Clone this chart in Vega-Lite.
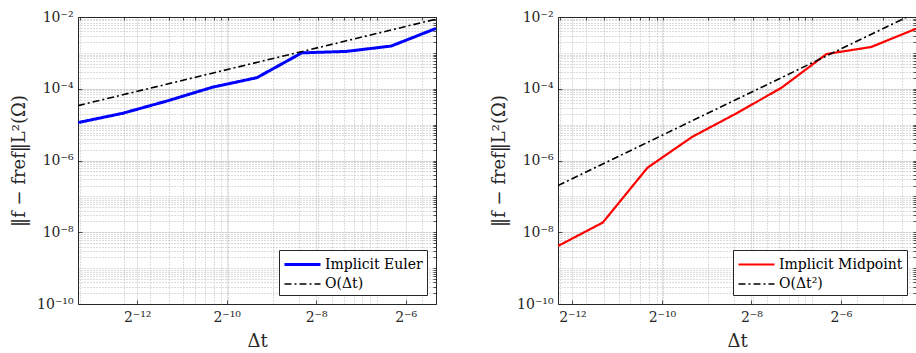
{
  "$schema": "https://vega.github.io/schema/vega-lite/v6.json",
  "padding": {"left": 10, "top": 10, "right": 0, "bottom": 2},
  "background": "white",
  "spacing": 122,
  "bounds": "flush",
  "datasets": {
    "euler": [
      {"dt": 9.765625e-5, "err": 1.14e-5, "series": "Implicit Euler"},
      {"dt": 1.953125e-4, "err": 2.07e-5, "series": "Implicit Euler"},
      {"dt": 3.90625e-4, "err": 4.6e-5, "series": "Implicit Euler"},
      {"dt": 7.8125e-4, "err": 1.1e-4, "series": "Implicit Euler"},
      {"dt": 1.5625e-3, "err": 2.04e-4, "series": "Implicit Euler"},
      {"dt": 3.125e-3, "err": 1.0e-3, "series": "Implicit Euler"},
      {"dt": 6.25e-3, "err": 1.1e-3, "series": "Implicit Euler"},
      {"dt": 1.25e-2, "err": 1.55e-3, "series": "Implicit Euler"},
      {"dt": 2.5e-2, "err": 4.8e-3, "series": "Implicit Euler"},
      {"dt": 9.765625e-5, "err": 3.39e-5, "series": "O(Δt)"},
      {"dt": 2.5e-2, "err": 8.7e-3, "series": "O(Δt)"}
    ],
    "midpoint": [
      {"dt": 1.953125e-4, "err": 4.14e-9, "series": "Implicit Midpoint"},
      {"dt": 3.90625e-4, "err": 1.86e-8, "series": "Implicit Midpoint"},
      {"dt": 7.8125e-4, "err": 6.3e-7, "series": "Implicit Midpoint"},
      {"dt": 1.5625e-3, "err": 4.57e-6, "series": "Implicit Midpoint"},
      {"dt": 3.125e-3, "err": 2.1e-5, "series": "Implicit Midpoint"},
      {"dt": 6.25e-3, "err": 1.08e-4, "series": "Implicit Midpoint"},
      {"dt": 1.25e-2, "err": 9.3e-4, "series": "Implicit Midpoint"},
      {"dt": 2.5e-2, "err": 1.46e-3, "series": "Implicit Midpoint"},
      {"dt": 5e-2, "err": 4.7e-3, "series": "Implicit Midpoint"},
      {"dt": 1.953125e-4, "err": 2.0e-7, "series": "O(Δt²)"},
      {"dt": 5e-2, "err": 1.32e-2, "series": "O(Δt²)"}
    ]
  },
  "hconcat": [
    {
      "width": 358,
      "height": 287,
      "data": {"name": "euler"},
      "layer": [
        {
          "mark": {"type": "line", "clip": true},
          "encoding": {
            "x": {"field": "dt", "type": "quantitative",
              "scale": {"type": "log", "domain": [9.765625e-5, 0.025], "nice": false},
              "axis": {"orient": "bottom", "values": [0.000244140625, 0.0009765625, 0.00390625, 0.015625],
                "labelExpr": "round(log(datum.value)/LN2) == -12 ? '2⁻¹²' : round(log(datum.value)/LN2) == -10 ? '2⁻¹⁰' : round(log(datum.value)/LN2) == -8 ? '2⁻⁸' : '2⁻⁶'",
                "title": "Δt", "grid": true, "gridColor": "#e4e4e4", "tickSize": -4, "labelPadding": 10, "titlePadding": 8}},
            "y": {"field": "err", "type": "quantitative",
              "scale": {"type": "log", "domain": [1e-10, 1e-2], "nice": false},
              "axis": {"orient": "left", "values": [1e-10, 1e-8, 1e-6, 1e-4, 1e-2],
                "labelExpr": "round(log(datum.value)/LN10) == -2 ? '10⁻²' : round(log(datum.value)/LN10) == -4 ? '10⁻⁴' : round(log(datum.value)/LN10) == -6 ? '10⁻⁶' : round(log(datum.value)/LN10) == -8 ? '10⁻⁸' : '10⁻¹⁰'",
                "title": "‖f − fref‖L²(Ω)", "grid": true, "gridColor": "#e4e4e4", "tickSize": -4, "labelPadding": 9, "titlePadding": 8}},
            "color": {"field": "series", "type": "nominal",
              "scale": {"domain": ["Implicit Euler", "O(Δt)"], "range": ["#0000ff", "#000000"]}},
            "strokeDash": {"field": "series", "type": "nominal",
              "scale": {"domain": ["Implicit Euler", "O(Δt)"], "range": [[1, 0], [7, 3, 2, 3]]}},
            "strokeWidth": {"field": "series", "type": "nominal",
              "scale": {"domain": ["Implicit Euler", "O(Δt)"], "range": [3, 1.6]}}
          }
        },
        {
          "mark": {"type": "line", "opacity": 0},
          "encoding": {
            "x": {"field": "dt", "type": "quantitative",
              "axis": {"orient": "top", "values": [1e-4, 2e-4, 3e-4, 4e-4, 5e-4, 6e-4, 7e-4, 8e-4, 9e-4, 1e-3, 2e-3, 3e-3, 4e-3, 5e-3, 6e-3, 7e-3, 8e-3, 9e-3, 1e-2, 2e-2],
                "labels": false, "title": null, "grid": true, "gridColor": "#b8b8b8", "gridDash": [1, 2], "tickSize": -3}},
            "y": {"field": "err", "type": "quantitative",
              "axis": {"orient": "right", "values": [1e-10, 2e-10, 3e-10, 4e-10, 5e-10, 6e-10, 7e-10, 8e-10, 9e-10, 1e-9, 2e-9, 3e-9, 4e-9, 5e-9, 6e-9, 7e-9, 8e-9, 9e-9, 1e-8, 2e-8, 3e-8, 4e-8, 5e-8, 6e-8, 7e-8, 8e-8, 9e-8, 1e-7, 2e-7, 3e-7, 4e-7, 5e-7, 6e-7, 7e-7, 8e-7, 9e-7, 1e-6, 2e-6, 3e-6, 4e-6, 5e-6, 6e-6, 7e-6, 8e-6, 9e-6, 1e-5, 2e-5, 3e-5, 4e-5, 5e-5, 6e-5, 7e-5, 8e-5, 9e-5, 1e-4, 2e-4, 3e-4, 4e-4, 5e-4, 6e-4, 7e-4, 8e-4, 9e-4, 1e-3, 2e-3, 3e-3, 4e-3, 5e-3, 6e-3, 7e-3, 8e-3, 9e-3, 1e-2],
                "labels": false, "title": null, "grid": true, "gridColor": "#b8b8b8", "gridDash": [1, 2], "tickSize": -3}}
          }
        }
      ],
      "resolve": {"axis": {"x": "independent", "y": "independent"}}
    },
    {
      "width": 358,
      "height": 287,
      "data": {"name": "midpoint"},
      "layer": [
        {
          "mark": {"type": "line", "clip": true},
          "encoding": {
            "x": {"field": "dt", "type": "quantitative",
              "scale": {"type": "log", "domain": [1.953125e-4, 0.05], "nice": false},
              "axis": {"orient": "bottom", "values": [0.000244140625, 0.0009765625, 0.00390625, 0.015625],
                "labelExpr": "round(log(datum.value)/LN2) == -12 ? '2⁻¹²' : round(log(datum.value)/LN2) == -10 ? '2⁻¹⁰' : round(log(datum.value)/LN2) == -8 ? '2⁻⁸' : '2⁻⁶'",
                "title": "Δt", "grid": true, "gridColor": "#e4e4e4", "tickSize": -4, "labelPadding": 10, "titlePadding": 8}},
            "y": {"field": "err", "type": "quantitative",
              "scale": {"type": "log", "domain": [1e-10, 1e-2], "nice": false},
              "axis": {"orient": "left", "values": [1e-10, 1e-8, 1e-6, 1e-4, 1e-2],
                "labelExpr": "round(log(datum.value)/LN10) == -2 ? '10⁻²' : round(log(datum.value)/LN10) == -4 ? '10⁻⁴' : round(log(datum.value)/LN10) == -6 ? '10⁻⁶' : round(log(datum.value)/LN10) == -8 ? '10⁻⁸' : '10⁻¹⁰'",
                "title": "‖f − fref‖L²(Ω)", "grid": true, "gridColor": "#e4e4e4", "tickSize": -4, "labelPadding": 9, "titlePadding": 8}},
            "color": {"field": "series", "type": "nominal",
              "scale": {"domain": ["Implicit Midpoint", "O(Δt²)"], "range": ["#ff0000", "#000000"]}},
            "strokeDash": {"field": "series", "type": "nominal",
              "scale": {"domain": ["Implicit Midpoint", "O(Δt²)"], "range": [[1, 0], [7, 3, 2, 3]]}},
            "strokeWidth": {"field": "series", "type": "nominal",
              "scale": {"domain": ["Implicit Midpoint", "O(Δt²)"], "range": [2.2, 1.6]}}
          }
        },
        {
          "mark": {"type": "line", "opacity": 0},
          "encoding": {
            "x": {"field": "dt", "type": "quantitative",
              "axis": {"orient": "top", "values": [2e-4, 3e-4, 4e-4, 5e-4, 6e-4, 7e-4, 8e-4, 9e-4, 1e-3, 2e-3, 3e-3, 4e-3, 5e-3, 6e-3, 7e-3, 8e-3, 9e-3, 1e-2, 2e-2, 3e-2, 4e-2, 5e-2],
                "labels": false, "title": null, "grid": true, "gridColor": "#b8b8b8", "gridDash": [1, 2], "tickSize": -3}},
            "y": {"field": "err", "type": "quantitative",
              "axis": {"orient": "right", "values": [1e-10, 2e-10, 3e-10, 4e-10, 5e-10, 6e-10, 7e-10, 8e-10, 9e-10, 1e-9, 2e-9, 3e-9, 4e-9, 5e-9, 6e-9, 7e-9, 8e-9, 9e-9, 1e-8, 2e-8, 3e-8, 4e-8, 5e-8, 6e-8, 7e-8, 8e-8, 9e-8, 1e-7, 2e-7, 3e-7, 4e-7, 5e-7, 6e-7, 7e-7, 8e-7, 9e-7, 1e-6, 2e-6, 3e-6, 4e-6, 5e-6, 6e-6, 7e-6, 8e-6, 9e-6, 1e-5, 2e-5, 3e-5, 4e-5, 5e-5, 6e-5, 7e-5, 8e-5, 9e-5, 1e-4, 2e-4, 3e-4, 4e-4, 5e-4, 6e-4, 7e-4, 8e-4, 9e-4, 1e-3, 2e-3, 3e-3, 4e-3, 5e-3, 6e-3, 7e-3, 8e-3, 9e-3, 1e-2],
                "labels": false, "title": null, "grid": true, "gridColor": "#b8b8b8", "gridDash": [1, 2], "tickSize": -3}}
          }
        }
      ],
      "resolve": {"axis": {"x": "independent", "y": "independent"}}
    }
  ],
  "resolve": {
    "scale": {"color": "independent", "strokeDash": "independent", "strokeWidth": "independent"},
    "legend": {"color": "independent", "strokeDash": "independent", "strokeWidth": "independent"}
  },
  "config": {
    "view": {"stroke": null},
    "font": "DejaVu Serif",
    "axis": {
      "domainColor": "#262626", "domainWidth": 1, "tickColor": "#262626", "tickWidth": 0.8,
      "labelColor": "#262626", "labelFont": "DejaVu Serif", "labelFontSize": 14,
      "titleColor": "#262626", "titleFont": "DejaVu Serif", "titleFontSize": 18, "titleFontWeight": "normal",
      "gridOpacity": 1, "labelFlush": false, "labelOverlap": false
    },
    "legend": {
      "orient": "bottom-right", "offset": 9, "title": null,
      "fillColor": "white", "strokeColor": "#262626", "padding": 4,
      "labelFont": "DejaVu Serif", "labelFontSize": 14, "labelColor": "#000000",
      "symbolType": "M-1,0H3", "symbolSize": 324, "rowPadding": 2, "labelOffset": 21
    }
  }
}
